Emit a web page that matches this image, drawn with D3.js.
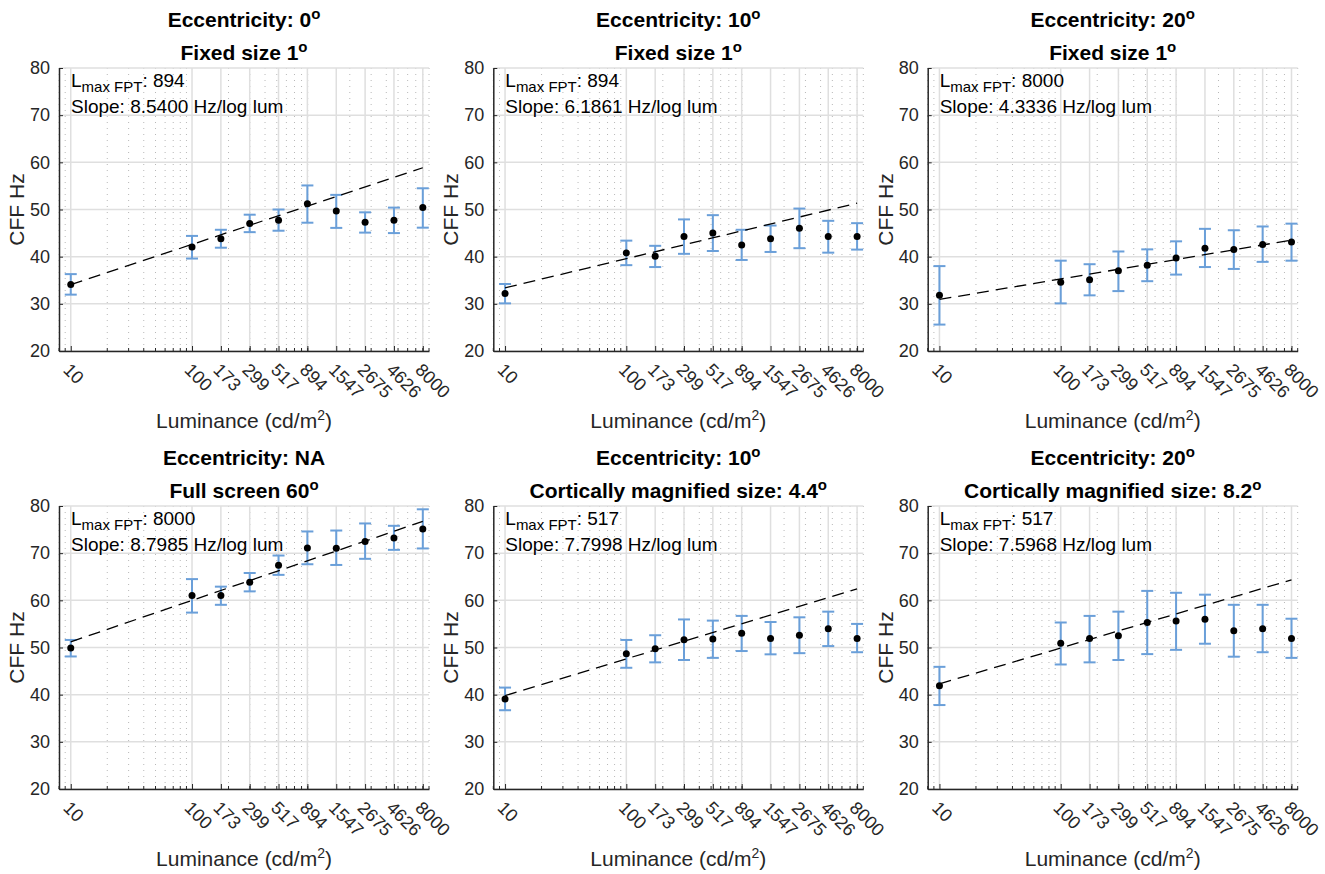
<!DOCTYPE html>
<html lang="en">

<head>
    <meta charset="UTF-8">
    <script src="https://d3js.org/d3.v7.min.js"></script>
    <title>CFF vs luminance</title>
    <style>
        body { margin: 0; background: #fff; }
        svg { font-family: "Liberation Sans", Arial, Helvetica, sans-serif; }
        .title { font-weight: bold; font-size: 21px; fill: #000; }
        .tick-label { font-size: 18px; fill: #262626; }
        .axis-label { font-size: 21px; fill: #262626; }
        .note { font-size: 19px; fill: #000; }
        .grid-major { stroke: #dfdfdf; stroke-width: 1.5; }
        .grid-minor { stroke: #b8b8b8; stroke-width: 1; stroke-dasharray: 1 5; }
        .axis-line { stroke: #262626; stroke-width: 1.5; }
        .errbar { stroke: #6a9fd9; stroke-width: 2; fill: none; }
        .fit { stroke: #000; stroke-width: 1.3; stroke-dasharray: 12 7; fill: none; }
    </style>
</head>

<body>
    <div id="chart"></div>
    <script>
        // Data
        const luminance = [10, 100, 173, 299, 517, 894, 1547, 2675, 4626, 8000];

        const titleLine1 = ["Eccentricity: 0", "Eccentricity: 10", "Eccentricity: 20",
            "Eccentricity: NA", "Eccentricity: 10", "Eccentricity: 20"];
        const titleLine1Deg = [true, true, true, false, true, true];
        const titleLine2 = ["Fixed size 1", "Fixed size 1", "Fixed size 1",
            "Full screen 60", "Cortically magnified size: 4.4", "Cortically magnified size: 8.2"];

        const lmaxFPT = [894, 894, 8000, 8000, 517, 517];
        const slopes = ["8.5400", "6.1861", "4.3336", "8.7985", "7.7998", "7.5968"];
        const fitIntercepts = [25.52, 27.2, 26.6, 42.4, 32.0, 34.7];

        const cffEcc0Fixed = [34.1, 42.05, 43.8, 47.05, 47.7, 51.2, 49.7, 47.3, 47.7, 50.4];
        const upperEcc0Fixed = [36.3, 44.4, 45.7, 48.9, 50.0, 55.1, 53.1, 49.4, 50.4, 54.5];
        const lowerEcc0Fixed = [31.95, 39.6, 41.9, 45.2, 45.5, 47.2, 46.1, 45.1, 45.0, 46.15];

        const cffEcc10Fixed = [32.2, 40.8, 40.1, 44.25, 45.0, 42.5, 43.8, 46.0, 44.25, 44.3];
        const upperEcc10Fixed = [34.2, 43.4, 42.3, 47.9, 48.8, 45.7, 46.6, 50.2, 47.6, 47.1];
        const lowerEcc10Fixed = [30.1, 38.2, 37.8, 40.6, 41.2, 39.3, 41.0, 41.8, 40.85, 41.5];

        const cffEcc20Fixed = [31.8, 34.6, 35.1, 37.0, 38.2, 39.7, 41.8, 41.5, 42.6, 43.1];
        const upperEcc20Fixed = [38.0, 39.15, 38.4, 41.1, 41.55, 43.25, 45.9, 45.6, 46.4, 47.0];
        const lowerEcc20Fixed = [25.6, 30.1, 31.8, 32.7, 34.8, 36.2, 37.8, 37.4, 38.9, 39.15];

        const cffFullScreen = [49.9, 61.0, 61.0, 63.85, 67.45, 71.1, 71.05, 72.5, 73.2, 75.1];
        const upperFullScreen = [51.6, 64.5, 62.9, 65.8, 69.5, 74.6, 74.8, 76.3, 75.8, 79.3];
        const lowerFullScreen = [48.1, 57.4, 59.05, 61.9, 65.4, 67.65, 67.5, 68.8, 70.7, 71.0];

        const cffEcc10Cortical = [39.1, 48.7, 49.75, 51.65, 51.8, 53.0, 51.9, 52.6, 54.0, 51.9];
        const upperEcc10Cortical = [41.5, 51.6, 52.6, 55.95, 55.7, 56.7, 55.4, 56.4, 57.6, 55.0];
        const lowerEcc10Cortical = [36.7, 45.7, 46.85, 47.35, 47.8, 49.25, 48.55, 48.8, 50.3, 49.0];

        const cffEcc20Cortical = [41.9, 50.9, 51.9, 52.5, 55.3, 55.6, 56.0, 53.55, 54.0, 51.9];
        const upperEcc20Cortical = [45.9, 55.3, 56.7, 57.6, 62.0, 61.6, 61.2, 59.05, 59.05, 56.1];
        const lowerEcc20Cortical = [37.8, 46.4, 46.85, 47.35, 48.6, 49.5, 50.8, 48.05, 49.0, 47.8];

        const yTicks = [20, 30, 40, 50, 60, 70, 80];
        const xMinorTicks = [8, 9, 20, 30, 40, 50, 60, 70, 80, 90,
            200, 300, 400, 500, 600, 700, 800, 900,
            2000, 3000, 4000, 5000, 6000, 7000, 8000, 9000];

        const means = [cffEcc0Fixed, cffEcc10Fixed, cffEcc20Fixed, cffFullScreen, cffEcc10Cortical, cffEcc20Cortical];
        const uppers = [upperEcc0Fixed, upperEcc10Fixed, upperEcc20Fixed, upperFullScreen, upperEcc10Cortical, upperEcc20Cortical];
        const lowers = [lowerEcc0Fixed, lowerEcc10Fixed, lowerEcc20Fixed, lowerFullScreen, lowerEcc10Cortical, lowerEcc20Cortical];

        // Dimensions
        const width = 1325;
        const height = 874;
        const plotW = 370;
        const plotH = 283;
        const colLeft = [59, 493.3, 927.7];
        const rowTop = [68, 506];

        const svg = d3.select("#chart")
            .append("svg")
            .attr("width", width)
            .attr("height", height);

        const x = d3.scaleLog().domain([8, 9000]).range([0, plotW]);
        const y = d3.scaleLinear().domain([20, 80]).range([plotH, 0]);

        const fitLine = d3.line()
            .x(d => x(d.l))
            .y(d => y(d.v));

        d3.range(6).forEach(i => {
            const g = svg.append("g")
                .attr("transform", `translate(${colLeft[i % 3]},${rowTop[Math.floor(i / 3)]})`);

            const rows = luminance.map((l, j) => ({ l, m: means[i][j], hi: uppers[i][j], lo: lowers[i][j] }));

            // Grid
            g.selectAll(".grid-minor")
                .data(xMinorTicks)
                .join("line")
                .attr("class", "grid-minor")
                .attr("x1", d => x(d)).attr("x2", d => x(d))
                .attr("y1", 0).attr("y2", plotH);

            g.selectAll(".grid-vmajor")
                .data(luminance)
                .join("line")
                .attr("class", "grid-major grid-vmajor")
                .attr("x1", d => x(d)).attr("x2", d => x(d))
                .attr("y1", 0).attr("y2", plotH);

            g.selectAll(".grid-hmajor")
                .data(yTicks)
                .join("line")
                .attr("class", "grid-major grid-hmajor")
                .attr("x1", 0).attr("x2", plotW)
                .attr("y1", d => y(d)).attr("y2", d => y(d));

            // Axes
            const yAxis = g.append("g")
                .call(d3.axisLeft(y).tickValues(yTicks).tickSizeInner(-4).tickSizeOuter(0).tickPadding(9));
            yAxis.select(".domain").attr("class", "domain axis-line").attr("stroke", "#262626");
            yAxis.selectAll(".tick line").attr("stroke", "#262626");
            yAxis.selectAll(".tick text").attr("class", "tick-label").attr("font-size", null).attr("font-family", null);

            const xAxis = g.append("g")
                .attr("transform", `translate(0,${plotH})`)
                .call(d3.axisBottom(x).tickValues(luminance).tickSizeInner(-5).tickSizeOuter(0).tickFormat(d3.format("d")));
            xAxis.select(".domain").attr("class", "domain axis-line").attr("stroke", "#262626");
            xAxis.selectAll(".tick line").attr("stroke", "#262626");
            xAxis.selectAll(".tick text")
                .attr("class", "tick-label")
                .attr("font-size", null).attr("font-family", null)
                .attr("text-anchor", "start")
                .attr("transform", "translate(0,11) rotate(45)")
                .attr("x", 0).attr("y", 0)
                .attr("dy", "0.71em");

            g.append("g")
                .attr("transform", `translate(0,${plotH})`)
                .selectAll("line")
                .data(xMinorTicks)
                .join("line")
                .attr("stroke", "#262626")
                .attr("x1", d => x(d)).attr("x2", d => x(d))
                .attr("y1", 0).attr("y2", -3);

            // Error bars
            const eb = g.append("g").attr("class", "errbar");
            eb.selectAll(".stem")
                .data(rows)
                .join("line")
                .attr("x1", d => x(d.l)).attr("x2", d => x(d.l))
                .attr("y1", d => y(d.hi)).attr("y2", d => y(d.lo));
            eb.selectAll(".capTop")
                .data(rows)
                .join("line")
                .attr("class", "capTop")
                .attr("x1", d => x(d.l) - 6).attr("x2", d => x(d.l) + 6)
                .attr("y1", d => y(d.hi)).attr("y2", d => y(d.hi));
            eb.selectAll(".capBot")
                .data(rows)
                .join("line")
                .attr("class", "capBot")
                .attr("x1", d => x(d.l) - 6).attr("x2", d => x(d.l) + 6)
                .attr("y1", d => y(d.lo)).attr("y2", d => y(d.lo));

            // Fit line
            const slope = +slopes[i];
            const fitPts = [10, 8000].map(l => ({ l, v: fitIntercepts[i] + slope * Math.log10(l) }));
            g.append("path")
                .attr("class", "fit")
                .attr("d", fitLine(fitPts));

            // Means
            g.selectAll(".dot")
                .data(rows)
                .join("circle")
                .attr("class", "dot")
                .attr("cx", d => x(d.l))
                .attr("cy", d => y(d.m))
                .attr("r", 3.5)
                .attr("fill", "#000");

            // Annotation
            const note1 = g.append("text").attr("class", "note").attr("x", 12).attr("y", 19);
            note1.append("tspan").text("L");
            note1.append("tspan").attr("dy", 5).attr("font-size", "15px").text("max FPT");
            note1.append("tspan").attr("dy", -5).text(`: ${lmaxFPT[i]}`);
            g.append("text").attr("class", "note").attr("x", 12).attr("y", 45)
                .text(`Slope: ${slopes[i]} Hz/log lum`);

            // Titles
            const t1 = g.append("text").attr("class", "title")
                .attr("x", plotW / 2).attr("y", -41).attr("text-anchor", "middle");
            t1.append("tspan").text(titleLine1[i]);
            if (titleLine1Deg[i]) t1.append("tspan").attr("dy", -8).attr("font-size", "15px").text("o");

            const t2 = g.append("text").attr("class", "title")
                .attr("x", plotW / 2).attr("y", -8).attr("text-anchor", "middle");
            t2.append("tspan").text(titleLine2[i]);
            t2.append("tspan").attr("dy", -8).attr("font-size", "15px").text("o");

            // Axis labels
            g.append("text").attr("class", "axis-label")
                .attr("transform", `translate(-35,${plotH / 2}) rotate(-90)`)
                .attr("text-anchor", "middle")
                .text("CFF Hz");

            const xl = g.append("text").attr("class", "axis-label")
                .attr("x", plotW / 2).attr("y", plotH + 77)
                .attr("text-anchor", "middle");
            xl.append("tspan").text("Luminance (cd/m");
            xl.append("tspan").attr("dy", -8).attr("font-size", "14px").text("2");
            xl.append("tspan").attr("dy", 8).text(")");
        });
    </script>
</body>

</html>
